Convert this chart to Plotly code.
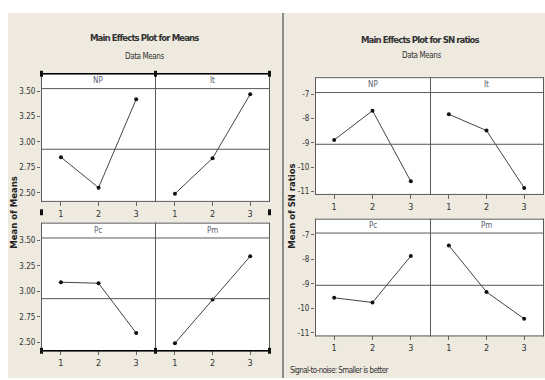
import numpy as np
import plotly.graph_objects as go

W, H = 545, 380

# ---- data -------------------------------------------------------------
levels = [1, 2, 3]
factors = ["NP", "It", "Pc", "Pm"]

means_NP = [2.85, 2.55, 3.42]
means_It = [2.49, 2.84, 3.47]
means_Pc = [3.09, 3.08, 2.59]
means_Pm = [2.49, 2.92, 3.345]

sn_NP = [-8.88, -7.67, -10.59]
sn_It = [-7.82, -8.49, -10.86]
sn_Pc = [-9.57, -9.76, -7.86]
sn_Pm = [-7.43, -9.33, -10.43]

mean_ticks = [2.50, 2.75, 3.00, 3.25, 3.50]
mean_ticklabels = ["2.50", "2.75", "3.00", "3.25", "3.50"]
sn_ticks = [-11, -10, -9, -8, -7]
sn_ticklabels = ["-11", "-10", "-9", "-8", "-7"]

means_series = [means_NP, means_It, means_Pc, means_Pm]
sn_series = [sn_NP, sn_It, sn_Pc, sn_Pm]

NARROW = "Liberation Sans Narrow, DejaVu Sans Condensed, Liberation Sans, sans-serif"
WIDE = "DejaVu Sans, Verdana, sans-serif"
BEIGE = "#eeeae0"
FRAME = "#5a5a5a"


def px(x):
    return x / W


def py(y):
    return 1 - y / H


def tight(text, spacing):
    return '<span style="letter-spacing:%spx">%s</span>' % (spacing, text)


fig = go.Figure()
shapes = []
annotations = []
layout_axes = {}

# pixel geometry of the two 2x2 panel grids
charts = [
    dict(series=means_series, cols=[(41, 155), (155, 269)],
         rows=[(87, 201), (238, 352)], strips=[(72, 87), (223, 238)],
         xrange=[0.47, 3.5], yrange=[2.42, 3.53],
         ticks=mean_ticks, ticklabels=mean_ticklabels),
    dict(series=sn_series, cols=[(315, 430), (430, 543)],
         rows=[(91, 194), (233, 337)], strips=[(76, 91), (219, 233)],
         xrange=[0.5, 3.5], yrange=[-11.11, -6.9],
         ticks=sn_ticks, ticklabels=sn_ticklabels),
]

# panel backgrounds
shapes.append(dict(type="rect", xref="paper", yref="paper", layer="below",
                   x0=px(8), x1=px(282), y0=0, y1=py(11),
                   fillcolor=BEIGE, line=dict(width=0)))
shapes.append(dict(type="rect", xref="paper", yref="paper", layer="below",
                   x0=px(284), x1=1, y0=0, y1=py(11),
                   fillcolor=BEIGE, line=dict(width=0)))
shapes.append(dict(type="line", xref="paper", yref="paper",
                   x0=px(283), x1=px(283), y0=0, y1=py(11),
                   line=dict(color="#8c8c8c", width=2)))


def hline(xa, xb, y, color=FRAME, width=1):
    shapes.append(dict(type="line", xref="paper", yref="paper",
                       x0=px(xa), x1=px(xb), y0=py(y + 0.5), y1=py(y + 0.5),
                       line=dict(color=color, width=width)))


def vline(x, ya, yb, color=FRAME, width=1):
    shapes.append(dict(type="line", xref="paper", yref="paper",
                       x0=px(x + 0.5), x1=px(x + 0.5), y0=py(ya), y1=py(yb),
                       line=dict(color=color, width=width)))


idx = 0
for chart in charts:
    grand = float(np.mean(np.concatenate([np.array(s) for s in chart["series"]])))
    for r in range(2):
        (y0, y1) = chart["rows"][r]
        (s0, s1) = chart["strips"][r]
        (xl, _) = chart["cols"][0]
        (_, xr) = chart["cols"][1]
        for c in range(2):
            k = r * 2 + c
            idx += 1
            xs = "" if idx == 1 else str(idx)
            (x0, x1) = chart["cols"][c]

            fig.add_trace(go.Scatter(
                x=levels, y=chart["series"][k], mode="lines+markers",
                line=dict(color="#444444", width=1),
                marker=dict(color="#111111", size=4),
                xaxis="x" + xs, yaxis="y" + xs, showlegend=False,
                hoverinfo="x+y"))

            layout_axes["xaxis" + xs] = dict(
                domain=[px(x0), px(x1)], range=chart["xrange"],
                anchor="y" + xs, tickvals=levels, ticktext=["1", "2", "3"],
                ticks="outside", ticklen=4, tickcolor="#666",
                tickfont=dict(family=NARROW, size=9, color="#333"),
                showline=False, showgrid=False, zeroline=False, fixedrange=True)
            yax = dict(
                domain=[py(y1), py(y0)], range=chart["yrange"],
                anchor="x" + xs, showline=False, showgrid=False,
                zeroline=False, fixedrange=True)
            if c == 0:
                yax.update(tickvals=chart["ticks"], ticktext=chart["ticklabels"],
                           ticks="outside", ticklen=3, tickcolor="#666",
                           tickfont=dict(family=NARROW, size=8, color="#333"))
            else:
                yax.update(showticklabels=False, ticks="")
            layout_axes["yaxis" + xs] = yax

            # white plotting area and strip
            shapes.append(dict(type="rect", xref="paper", yref="paper", layer="below",
                               x0=px(x0), x1=px(x1), y0=py(y1), y1=py(s0),
                               fillcolor="white", line=dict(width=0)))
            # grand mean reference line
            shapes.append(dict(type="line", xref="x" + xs + " domain", yref="y" + xs,
                               x0=0, x1=1, y0=grand, y1=grand,
                               line=dict(color="#555555", width=1)))
            annotations.append(dict(text=factors[k],
                                    x=px((x0 + x1) / 2), y=py((s0 + s1) / 2),
                                    font=dict(family=NARROW, size=8, color="#5a6070")))

        # borders of this row of panels
        hline(xl, xr + 1, s0)
        hline(xl, xr + 1, s1)
        hline(xl, xr + 1, y1)
        vline(xl, s0, y1 + 1)
        vline(xr, s0, y1 + 1)
        vline(chart["cols"][0][1], s0, y1 + 1)

# selection frame with handles around the left grid
hline(41, 270, 72, color="black", width=1.5)
hline(41, 270, 352, color="black", width=1.5)
for hx, hy in [(41, 72), (155, 72), (269, 72), (41, 212), (269, 212),
               (41, 352), (155, 352), (269, 352)]:
    shapes.append(dict(type="rect", xref="paper", yref="paper",
                       x0=px(hx - 1), x1=px(hx + 2), y0=py(hy + 3.5), y1=py(hy - 2.5),
                       fillcolor="#111", line=dict(width=0)))

# titles
annotations += [
    dict(text="<b>" + tight("Main Effects Plot for Means", -0.9) + "</b>",
         x=px(144), y=py(36), font=dict(family=NARROW, size=9.5, color="#333")),
    dict(text=tight("Data Means", -0.4), x=px(144), y=py(55),
         font=dict(family=NARROW, size=8, color="#333")),
    dict(text="<b>" + tight("Main Effects Plot for SN ratios", -0.9) + "</b>",
         x=px(420), y=py(38), font=dict(family=NARROW, size=9.5, color="#333")),
    dict(text=tight("Data Means", -0.4), x=px(421), y=py(54),
         font=dict(family=NARROW, size=8, color="#333")),
    dict(text="<b>Mean of Means</b>", x=px(14), y=py(213), textangle=-90,
         font=dict(family=WIDE, size=8.5, color="#222")),
    dict(text="<b>Mean of SN ratios</b>", x=px(292), y=py(207), textangle=-90,
         font=dict(family=WIDE, size=8.5, color="#222")),
    dict(text=tight("Signal-to-noise: Smaller is better", -0.6), x=px(288), y=py(372),
         xanchor="left", font=dict(family=NARROW, size=8, color="#333")),
]
for a in annotations:
    a.setdefault("xref", "paper")
    a.setdefault("yref", "paper")
    a.setdefault("showarrow", False)
    a.setdefault("xanchor", "center")
    a.setdefault("yanchor", "middle")

fig.update_layout(
    width=W, height=H, margin=dict(l=0, r=0, t=0, b=0),
    paper_bgcolor="white", plot_bgcolor="rgba(0,0,0,0)",
    shapes=shapes, annotations=annotations, **layout_axes)

fig.write_html("out.html", config={"displayModeBar": False})
